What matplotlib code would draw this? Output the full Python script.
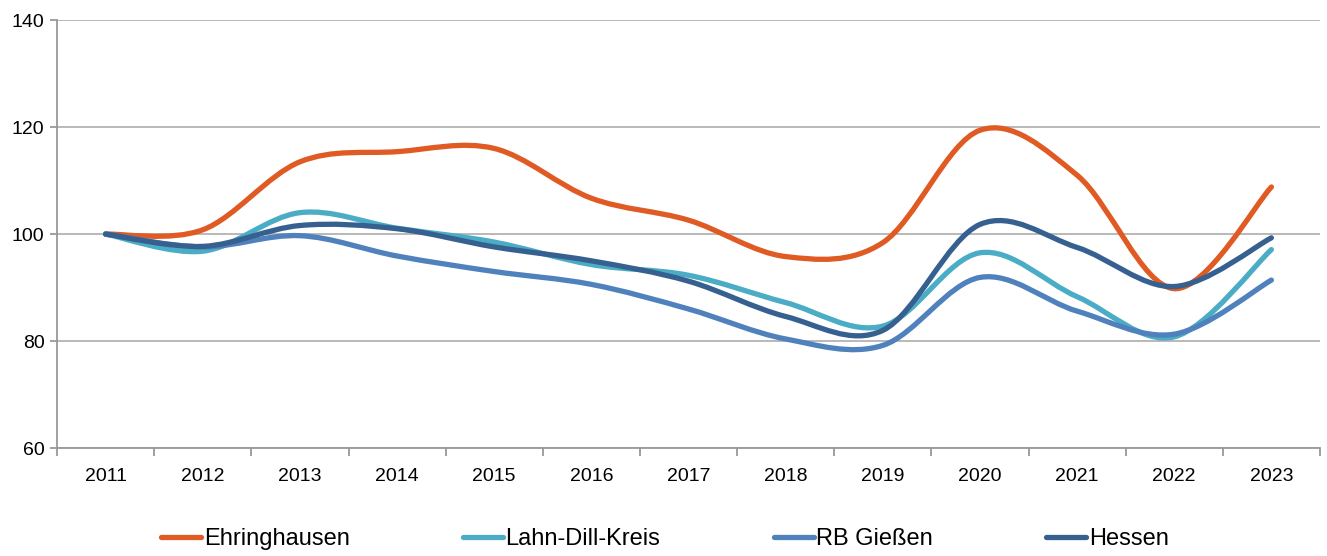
import matplotlib
matplotlib.use("Agg")
import matplotlib.pyplot as plt
from matplotlib.path import Path
from matplotlib.patches import PathPatch
from matplotlib.lines import Line2D
import numpy as np

years = ["2011", "2012", "2013", "2014", "2015", "2016", "2017",
         "2018", "2019", "2020", "2021", "2022", "2023"]
ehringhausen = [100.0, 100.8, 113.5, 115.4, 116.0, 106.7, 102.6, 95.8, 98.4, 119.4, 111.0, 89.8, 108.8]
lahn_dill = [100.0, 96.8, 104.0, 101.1, 98.5, 94.3, 92.3, 87.2, 82.8, 96.5, 88.3, 80.8, 97.1]
rb_giessen = [100.0, 97.6, 99.7, 95.9, 93.0, 90.6, 86.0, 80.4, 79.2, 91.9, 85.6, 81.3, 91.4]
hessen = [100.0, 97.7, 101.6, 101.0, 97.6, 95.0, 91.2, 84.6, 82.0, 101.8, 97.5, 90.2, 99.3]

series = [
    ("Ehringhausen", ehringhausen, "#E05A24"),
    ("Lahn-Dill-Kreis", lahn_dill, "#4BACC6"),
    ("RB Gießen", rb_giessen, "#4F81BD"),
    ("Hessen", hessen, "#36608F"),
]

plt.rcParams['font.family'] = ['Liberation Sans', 'DejaVu Sans']

fig = plt.figure(figsize=(13.27, 5.56), dpi=100)
ax = fig.add_axes([0.043, 0.194, 0.9517, 0.770])

def smooth_path(xs, ys):
    pts = np.column_stack([xs, ys]).astype(float)
    n = len(pts)
    verts = [pts[0]]
    codes = [Path.MOVETO]
    for i in range(n - 1):
        p0 = pts[i - 1] if i > 0 else pts[i]
        p1 = pts[i]
        p2 = pts[i + 1]
        p3 = pts[i + 2] if i + 2 < n else pts[i + 1]
        c1 = p1 + (p2 - p0) / 6.0
        c2 = p2 - (p3 - p1) / 6.0
        verts += [c1, c2, p2]
        codes += [Path.CURVE4] * 3
    return Path(verts, codes)

x = np.arange(len(years))
handles = []
for name, vals, col in series:
    p = smooth_path(x, vals)
    patch = PathPatch(p, facecolor="none", edgecolor=col, lw=3.8,
                      capstyle="round", joinstyle="round", zorder=3)
    ax.add_patch(patch)
    handles.append(Line2D([0], [0], color=col, lw=3.8, solid_capstyle="round", label=name))

ax.set_xlim(-0.5, len(years) - 0.5)
ax.set_ylim(60, 140)
ax.set_yticks([60, 80, 100, 120, 140])
ax.yaxis.grid(True, color="#B3B3B3", lw=1.3)
ax.set_axisbelow(True)

ax.set_xticks(x)
ax.set_xticklabels(years)
ax.set_xticks(np.arange(-0.5, len(years), 1.0), minor=True)
ax.tick_params(axis="x", which="major", length=0, pad=14, labelsize=14)
ax.tick_params(axis="x", which="minor", length=6, width=1.3, color="#999999", direction="out")
ax.tick_params(axis="y", length=5, width=1.3, color="#999999", labelsize=14, pad=4)

for s in ["top", "right"]:
    ax.spines[s].set_visible(False)
for s in ["left", "bottom"]:
    ax.spines[s].set_color("#999999")
    ax.spines[s].set_linewidth(1.3)

fig.legend(handles=handles, loc="lower center", bbox_to_anchor=(0.501, -0.028), ncol=4,
           frameon=False, fontsize=17, handlelength=1.7, handletextpad=0.1,
           columnspacing=4.8)

fig.savefig("out.png", dpi=100)
